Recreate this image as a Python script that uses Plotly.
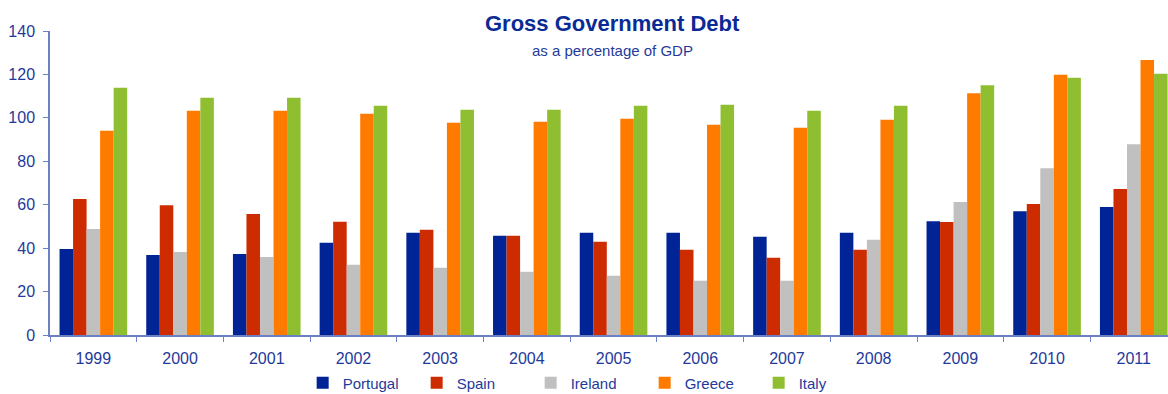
import plotly.graph_objects as go

years = ["1999", "2000", "2001", "2002", "2003", "2004", "2005",
         "2006", "2007", "2008", "2009", "2010", "2011"]
portugal = [39.6, 36.8, 37.3, 42.5, 47.1, 45.7, 47.1, 47.1, 45.3, 47.1, 52.4, 57.0, 58.9]
spain    = [62.6, 59.8, 55.7, 52.2, 48.5, 45.7, 43.0, 39.3, 35.6, 39.3, 52.0, 60.3, 67.2]
ireland  = [48.8, 38.2, 35.9, 32.4, 31.0, 29.1, 27.3, 25.0, 25.0, 43.9, 61.2, 76.8, 87.9]
greece   = [94.1, 103.3, 103.3, 101.9, 97.8, 98.2, 99.6, 96.8, 95.4, 99.1, 111.3, 119.8, 126.7]
italy    = [113.9, 109.3, 109.3, 105.6, 103.7, 103.7, 105.6, 106.0, 103.3, 105.6, 115.0, 118.5, 120.3]

series = [
    ("Portugal", portugal, "#002395"),
    ("Spain", spain, "#CC2C00"),
    ("Ireland", ireland, "#C0C0C0"),
    ("Greece", greece, "#FF7B00"),
    ("Italy", italy, "#8FBF30"),
]

TXT = "#1F3A9A"
AXC = "#6E80C4"
FONT = "Liberation Sans"

fig = go.Figure()
for name, vals, col in series:
    fig.add_trace(go.Bar(x=years, y=vals, name=name, marker=dict(color=col, line=dict(width=0))))

fig.update_layout(
    width=1168, height=394,
    margin=dict(l=50, r=0, t=31, b=59, autoexpand=False),
    paper_bgcolor="white", plot_bgcolor="white",
    barmode="group", bargap=0.22, bargroupgap=0,
    font=dict(family=FONT, color=TXT, size=16),
    showlegend=True,
    legend=dict(orientation="h", x=0.226, xanchor="left", xref="paper",
                y=0.028, yanchor="middle", yref="container",
                font=dict(size=15, color=TXT, family=FONT),
                entrywidth=69, entrywidthmode="pixels",
                itemwidth=30, traceorder="normal", bgcolor="rgba(0,0,0,0)"),
    annotations=[
        dict(text="<b>Gross Government Debt</b>", x=0.503, y=1.024, xref="paper", yref="paper",
             showarrow=False, font=dict(size=22, color="#0A2A96", family=FONT),
             xanchor="center", yanchor="middle"),
        dict(text="as a percentage of GDP", x=0.503, y=0.937, xref="paper", yref="paper",
             showarrow=False, font=dict(size=15, color=TXT, family=FONT),
             xanchor="center", yanchor="middle"),
    ],
)

fig.update_xaxes(
    type="category", range=[-0.5, 12.395],
    showline=True, linecolor=AXC, linewidth=1.5,
    ticks="outside", tickson="boundaries", ticklen=5, tickcolor=AXC,
    showgrid=False, zeroline=False,
    tickfont=dict(size=16, color=TXT, family=FONT),
    ticklabelstandoff=8,
)
fig.update_yaxes(
    range=[0, 140], dtick=20,
    showline=True, linecolor=AXC, linewidth=1.5,
    ticks="outside", ticklen=5, tickcolor=AXC,
    showgrid=False, zeroline=False,
    tickfont=dict(size=16, color=TXT, family=FONT),
    ticklabelstandoff=5,
)

fig.write_html("out.html")
